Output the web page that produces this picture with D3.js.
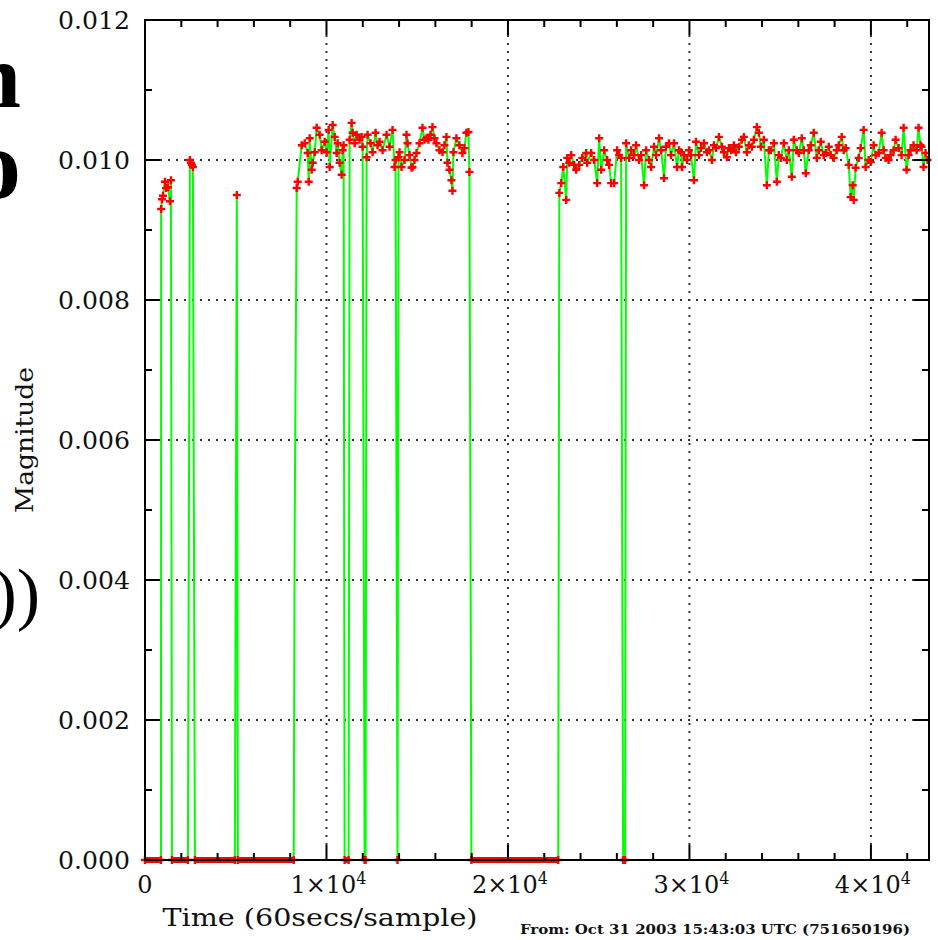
<!DOCTYPE html>
<html>
<head>
<meta charset="utf-8">
<script src="https://cdn.jsdelivr.net/npm/d3@7"></script>
<style>
  body { margin: 0; background: #fff; }
  svg { display: block; }
</style>
</head>
<body>
<svg width="938" height="940"></svg>
<script>
let width = 938;
let height = 940;

// samples (60 s each) and magnitude
let sampleTime = [
  0, 880, 890, 935, 990, 1100, 1155, 1265, 1375, 1430, 1485,
  2365, 2420, 2475, 2530, 2585, 2640, 2695, 2750,
  4950, 5005, 5060, 5115,
  8195, 8250, 8360, 8415, 8635, 8800, 8965, 9020, 9075, 9185, 9240, 9350,
  9460, 9625, 9735, 9900, 10010, 10120, 10175, 10340, 10450, 10560, 10615,
  10725, 10835, 10890, 10945, 11000, 11220, 11275, 11385, 11440, 11550,
  11660, 11825, 11935, 11990, 12045, 12100, 12155, 12210, 12265, 12430,
  12540, 12705, 12815, 12925, 13090, 13310, 13475, 13640, 13750, 13805,
  13860, 13915, 13970, 14025, 14135, 14300, 14410, 14465, 14575, 14685,
  14740, 14850, 14960, 15125, 15290, 15400, 15510, 15620, 15730, 15840,
  15950, 16060, 16225, 16390, 16500, 16610, 16665, 16775, 16885, 16940,
  16995, 17160, 17325, 17490, 17600, 17710, 17820, 17875, 17930, 17985,
  22770, 22830, 22935, 23045, 23210, 23265, 23375, 23485, 23650, 23760,
  23925, 24090, 24310, 24365, 24585, 24750, 24915, 25025, 25135, 25300,
  25465, 25575, 25685, 25850, 26015, 26125, 26235, 26290, 26345, 26455,
  26480, 26510, 26675, 26785, 26950, 27060, 27225, 27335, 27500, 27610,
  27775, 27885, 28050, 28160, 28325, 28435, 28600, 28710, 28875, 28985,
  29150, 29315, 29425, 29535, 29590, 29700, 29865, 29975, 30085, 30250,
  30360, 30525, 30635, 30800, 30965, 31075, 31240, 31350, 31460, 31625,
  31790, 31900, 32065, 32175, 32285, 32450, 32560, 32725, 32890, 33000,
  33165, 33275, 33440, 33550, 33715, 33825, 33935, 34100, 34265, 34375,
  34485, 34650, 34815, 34925, 35035, 35200, 35365, 35475, 35640, 35750,
  35915, 36025, 36190, 36300, 36410, 36575, 36685, 36850, 37015, 37125,
  37235, 37400, 37510, 37675, 37785, 37950, 38115, 38225, 38390, 38500,
  38610, 38775, 38885, 38995, 39050, 39160, 39325, 39435, 39600, 39710,
  39875, 39985, 40150, 40260, 40425, 40590, 40700, 40810, 40975, 41085,
  41250, 41360, 41525, 41690, 41800, 41965, 42075, 42185, 42350, 42515,
  42625, 42735, 42790, 42900, 43010, 43120
];
let magnitude = [
  0, 0, 0.0093, 0.00944, 0.00949, 0.00969, 0.0096, 0.00961, 0.00941, 0.00971, 0,
  0, 0.00497, 0.0100, 0.00996, 0.00993, 0.0099, 0.0049, 0,
  0, 0.00476, 0.0095, 0,
  0, 0.00484, 0.0096, 0.00969, 0.01021, 0.01024, 0.0101, 0.00969, 0.01031, 0.00986, 0.00996, 0.01011,
  0.01046, 0.01036, 0.01014, 0.01026, 0.01011, 0.01043, 0.0099, 0.0105, 0.01033, 0.0101, 0.01024,
  0.00996, 0.00979, 0.01014, 0.01021, 0, 0, 0.01029, 0.01053, 0.01039, 0.01024,
  0.01036, 0.01029, 0.01033, 0.01019, 0.00516, 0, 0, 0.01004, 0.01036, 0.01024,
  0.01011, 0.01039, 0.01021, 0.01026, 0.01014, 0.01036, 0.01019, 0.01043, 0.0099, 0.0100,
  0.00504, 0, 0.01004, 0.01011, 0.0099, 0.0100, 0.01036, 0.01024, 0.01007, 0.00989,
  0.0099, 0.0100, 0.0101, 0.01024, 0.01046, 0.01029, 0.01031, 0.01029, 0.01036, 0.01047,
  0.01031, 0.01024, 0.01014, 0.01011, 0.01021, 0.01033, 0.00996, 0.00986, 0.00971, 0.00956,
  0.01011, 0.01031, 0.01021, 0.0101, 0.01017, 0.01039, 0.0104, 0.00983, 0.00519, 0,
  0, 0.00953, 0.00967, 0.0099, 0.00943, 0.01003, 0.00996, 0.01007, 0.00993, 0.00986,
  0.00993, 0.01003, 0.0101, 0.00996, 0.0101, 0.0100, 0.00967, 0.01031, 0.00986, 0.01014,
  0.0100, 0.00993, 0.00967, 0.00967, 0.01014, 0.01007, 0.01003, 0.00504, 0, 0,
  0.00504, 0.01024, 0.01003, 0.01014, 0.01007, 0.01021, 0.0100, 0.01007, 0.00964, 0.01014,
  0.0100, 0.0099, 0.01019, 0.01007, 0.01031, 0.01014, 0.00974, 0.01019, 0.01024, 0.01007,
  0.01024, 0.0099, 0.01014, 0.01011, 0.0099, 0.01007, 0.0100, 0.01014, 0.01007, 0.00971,
  0.01026, 0.01007, 0.01017, 0.01024, 0.01011, 0.01014, 0.0100, 0.01021, 0.01017, 0.01033,
  0.01019, 0.01011, 0.01004, 0.01017, 0.01014, 0.01021, 0.01011, 0.01019, 0.01029, 0.01033,
  0.01011, 0.01021, 0.01019, 0.01029, 0.01047, 0.01039, 0.01019, 0.01029, 0.00964, 0.01014,
  0.01014, 0.01024, 0.00969, 0.01007, 0.01003, 0.01024, 0.0100, 0.01014, 0.00976, 0.01029,
  0.01014, 0.0101, 0.01031, 0.01014, 0.00981, 0.01014, 0.01021, 0.01039, 0.01003, 0.01014,
  0.01026, 0.01007, 0.0101, 0.01019, 0.01007, 0.01003, 0.01014, 0.01021, 0.01033, 0.01014,
  0.01017, 0.00993, 0.00947, 0.00964, 0.00943, 0.00989, 0.01003, 0.01017, 0.01043, 0.0099,
  0.0100, 0.00997, 0.01021, 0.01007, 0.0101, 0.01039, 0.01014, 0.01003, 0.0100, 0.01007,
  0.01014, 0.01029, 0.01017, 0.01007, 0.01046, 0.00986, 0.01007, 0.01014, 0.01021, 0.01014,
  0.01046, 0.01021, 0.01019, 0.0099, 0.0101, 0.0100
];

let xMajorTicks = [0, 10000, 20000, 30000, 40000];
let xTickMantissa = ['0', '1', '2', '3', '4'];
let yMajorTicks = [0, 0.002, 0.004, 0.006, 0.008, 0.010, 0.012];
let yTickLabels = ['0.000', '0.002', '0.004', '0.006', '0.008', '0.010', '0.012'];

let plot = {left: 145, right: 929, top: 20, bottom: 860};

let x = d3.scaleLinear().domain([0, 43200]).range([plot.left, plot.right]);
let y = d3.scaleLinear().domain([0, 0.012]).range([plot.bottom, plot.top]);

let svg = d3.select('svg');

// big clipped slide text on the left edge
let slide = svg.append('g').attr('font-family', 'Liberation Serif').attr('text-anchor', 'end');
slide.append('text').attr('x', 21).attr('y', 107).attr('font-size', 92).attr('font-weight', 'bold').text('n');
slide.append('text').attr('x', 21).attr('y', 198).attr('font-size', 100).attr('font-weight', 'bold').text('o');
slide.append('text').attr('x', 40).attr('y', 617).attr('font-size', 70).text('))');

// dotted grid
let grid = svg.append('g')
  .attr('stroke', '#333')
  .attr('stroke-width', 2)
  .attr('stroke-dasharray', '2,6');
grid.selectAll('.gx')
  .data(xMajorTicks.slice(1))
  .enter()
    .append('line')
    .attr('x1', d => x(d)).attr('x2', d => x(d))
    .attr('y1', plot.top + 15).attr('y2', plot.bottom - 15);
grid.selectAll('.gy')
  .data(yMajorTicks.slice(1, -1))
  .enter()
    .append('line')
    .attr('y1', d => y(d)).attr('y2', d => y(d))
    .attr('x1', plot.left + 15).attr('x2', plot.right - 15);

let idx = d3.range(sampleTime.length);

// zero runs sit on the baseline as a thick red band
let zeroRuns = idx.slice(0, -1).filter(i => magnitude[i] === 0 && magnitude[i + 1] === 0);
svg.append('g')
  .selectAll('line')
  .data(zeroRuns)
  .enter()
    .append('line')
    .attr('stroke', '#ff0000')
    .attr('stroke-width', 6)
    .attr('x1', i => x(sampleTime[i]))
    .attr('x2', i => x(sampleTime[i + 1]))
    .attr('y1', y(0)).attr('y2', y(0));

let line = d3.line()
  .x(i => x(sampleTime[i]))
  .y(i => y(magnitude[i]));

svg.append('path')
  .datum(idx)
  .attr('fill', 'none')
  .attr('stroke', '#00ff00')
  .attr('stroke-width', 2)
  .attr('d', line);

// "+" markers on real samples (the half-way steps are line joints only)
svg.append('g')
  .selectAll('path')
  .data(idx.filter(i => magnitude[i] === 0 || magnitude[i] > 0.008))
  .enter()
    .append('path')
    .attr('transform', i => `translate(${x(sampleTime[i])},${y(magnitude[i])})`)
    .attr('d', 'M-4,0H4M0,-4V4')
    .attr('stroke', '#ff0000')
    .attr('stroke-width', 2.4);

// frame and inward ticks on all four sides
svg.append('rect')
  .attr('x', plot.left).attr('y', plot.top)
  .attr('width', plot.right - plot.left).attr('height', plot.bottom - plot.top)
  .attr('fill', 'none').attr('stroke', '#000').attr('stroke-width', 2);

let xMinor = d3.range(0, 43200, 2000).filter(d => d % 10000 !== 0);
let yMinor = [0.001, 0.003, 0.005, 0.007, 0.009, 0.011];

let ticks = svg.append('g').attr('stroke', '#000').attr('stroke-width', 2);
function xTicks(data, len) {
  ticks.selectAll(null).data(data).enter().append('line')
    .attr('x1', d => x(d)).attr('x2', d => x(d))
    .attr('y1', plot.bottom).attr('y2', plot.bottom - len);
  ticks.selectAll(null).data(data).enter().append('line')
    .attr('x1', d => x(d)).attr('x2', d => x(d))
    .attr('y1', plot.top).attr('y2', plot.top + len);
}
function yTicks(data, len) {
  ticks.selectAll(null).data(data).enter().append('line')
    .attr('y1', d => y(d)).attr('y2', d => y(d))
    .attr('x1', plot.left).attr('x2', plot.left + len);
  ticks.selectAll(null).data(data).enter().append('line')
    .attr('y1', d => y(d)).attr('y2', d => y(d))
    .attr('x1', plot.right).attr('x2', plot.right - len);
}
xTicks(xMajorTicks, 15);
xTicks(xMinor, 7);
yTicks(yMajorTicks, 15);
yTicks(yMinor, 7);

// labels
let labels = svg.append('g')
  .attr('font-family', 'DejaVu Serif')
  .attr('font-size', 24)
  .attr('fill', '#111');

labels.selectAll('.yl')
  .data(yMajorTicks)
  .enter()
    .append('text')
    .attr('x', 130)
    .attr('y', d => y(d))
    .attr('dy', '0.36em')
    .attr('text-anchor', 'end')
    .attr('textLength', 72)
    .attr('lengthAdjust', 'spacingAndGlyphs')
    .text((d, i) => yTickLabels[i]);

let xl = labels.selectAll('.xl')
  .data(xMajorTicks)
  .enter()
    .append('text')
    .attr('x', d => x(d) + (d ? 2 : 0))
    .attr('y', 893)
    .attr('text-anchor', 'middle');
xl.append('tspan').text((d, i) => i ? xTickMantissa[i] + '\u00d710' : xTickMantissa[i]);
xl.filter(d => d !== 0)
  .append('tspan')
  .attr('dy', -9)
  .attr('font-size', 16)
  .text('4');

labels.append('text')
  .attr('x', 320).attr('y', 926)
  .attr('text-anchor', 'middle')
  .attr('textLength', 315)
  .attr('lengthAdjust', 'spacingAndGlyphs')
  .text('Time (60secs/sample)');

labels.append('text')
  .attr('transform', 'translate(33,440) rotate(-90)')
  .attr('text-anchor', 'middle')
  .attr('textLength', 146)
  .attr('lengthAdjust', 'spacingAndGlyphs')
  .text('Magnitude');

labels.append('text')
  .attr('x', 520).attr('y', 934)
  .attr('font-size', 12)
  .attr('font-weight', 'bold')
  .attr('textLength', 390)
  .attr('lengthAdjust', 'spacingAndGlyphs')
  .text('From: Oct 31 2003 15:43:03 UTC (751650196)');
</script>
</body>
</html>
